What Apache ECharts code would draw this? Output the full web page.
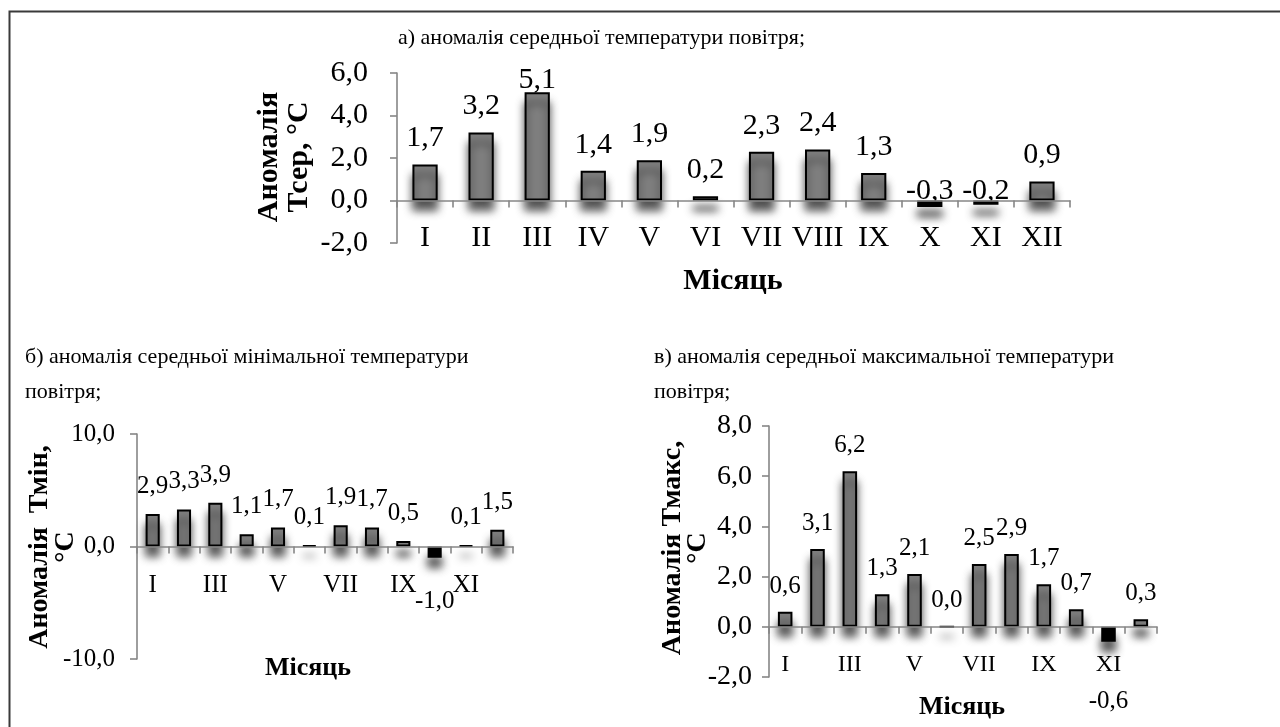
<!DOCTYPE html>
<html>
<head>
<meta charset="utf-8">
<script src="https://cdn.jsdelivr.net/npm/echarts@6/dist/echarts.min.js"></script>
<style>
  html, body { margin: 0; padding: 0; background: #fff; }
  #chart { width: 1280px; height: 727px; }
</style>
</head>
<body>
<div id="chart"></div>
<script>
// Monthly temperature anomalies (°C)
const months = ['I', 'II', 'III', 'IV', 'V', 'VI', 'VII', 'VIII', 'IX', 'X', 'XI', 'XII'];
const meanAnomaly = [1.7, 3.2, 5.1, 1.4, 1.9, 0.2, 2.3, 2.4, 1.3, -0.3, -0.2, 0.9];
const minAnomaly  = [2.9, 3.3, 3.9, 1.1, 1.7, 0.1, 1.9, 1.7, 0.5, -1.0, 0.1, 1.5];
const maxAnomaly  = [0.6, 3.1, 6.2, 1.3, 2.1, 0.0, 2.5, 2.9, 1.7, 0.7, -0.6, 0.3];

const titles = [
  'а) аномалія середньої температури повітря;',
  'б) аномалія середньої мінімальної температури\nповітря;',
  'в) аномалія середньої максимальної температури\nповітря;'
];
const yTitles = ['Аномалія\nТсер, °С', 'Аномалія  Тмін,\n°С', 'Аномалія Тмакс,\n°С'];
const xTitle = 'Місяць';

const FONT = '"Liberation Serif", "Times New Roman", serif';
const AXIS_GRAY = '#868686';
const fmt = v => Number(v).toFixed(1).replace('.', ',');

// per-panel layout and text sizes
const panels = [
  { values: meanAnomaly, grid: { left: 397, top: 73, width: 673, height: 170 },
    min: -2, max: 6, interval: 2, tickSize: 30, catSize: 30, labelSize: 30,
    yMargin: 29, xMargin: -20, catInterval: 0,
    posDist: 11, negPos: 'top', negDist: -6, capAbove: 5, capDist: -3 },
  { values: minAnomaly, grid: { left: 137, top: 434, width: 376, height: 225 },
    min: -10, max: 10, interval: 10, tickSize: 25, catSize: 25, labelSize: 25,
    yMargin: 22, xMargin: -86, catInterval: 1,
    posDist: 15, negPos: 'bottom', negDist: 31 },
  { values: maxAnomaly, grid: { left: 769, top: 426, width: 388, height: 251 },
    min: -2, max: 8, interval: 2, tickSize: 28, catSize: 24, labelSize: 25,
    yMargin: 17, xMargin: -24, catInterval: 1,
    posDist: 13, negPos: 'bottom', negDist: 47 }
];

const xAxes = panels.map((p, i) => ({
  gridIndex: i,
  type: 'category',
  data: months,
  z: 3,
  axisLine: { onZero: true, lineStyle: { color: AXIS_GRAY, width: 1.6 } },
  axisTick: { show: true, interval: 0, length: 7, lineStyle: { color: AXIS_GRAY, width: 1.6 } },
  axisLabel: { interval: p.catInterval, margin: p.xMargin, color: '#000',
               fontFamily: FONT, fontSize: p.catSize },
  splitLine: { show: false }
}));

const yAxes = panels.map((p, i) => ({
  gridIndex: i,
  type: 'value',
  min: p.min, max: p.max, interval: p.interval,
  axisLine: { show: true, lineStyle: { color: AXIS_GRAY, width: 1.6 } },
  axisTick: { show: true, length: 7, lineStyle: { color: AXIS_GRAY, width: 1.6 } },
  axisLabel: { margin: p.yMargin, color: '#000', fontFamily: FONT,
               fontSize: p.tickSize, formatter: fmt },
  splitLine: { show: false }
}));

const series = panels.map((p, i) => ({
  type: 'bar',
  xAxisIndex: i,
  yAxisIndex: i,
  barWidth: '45%',
  data: p.values.map(v => {
    const neg = v < 0;
    let dist = neg ? p.negDist : p.posDist;
    if (!neg && p.capAbove !== undefined && v > p.capAbove) dist = p.capDist;
    return {
      value: v,
      itemStyle: { color: neg ? '#000000' : '#7f7f7f' },
      label: { position: neg ? p.negPos : 'top', distance: dist }
    };
  }),
  itemStyle: {
    borderColor: '#000', borderWidth: 2,
    shadowColor: 'rgba(0,0,0,0.68)', shadowBlur: 8, shadowOffsetY: 10
  },
  label: {
    show: true, color: '#000', fontFamily: FONT, fontSize: p.labelSize,
    formatter: d => fmt(d.value)
  }
}));

function text(str, x, y, opts) {
  return Object.assign({
    type: 'text', x: x, y: y, silent: true,
    style: {
      text: str, fill: '#000', font: opts.font,
      textAlign: opts.align || 'center', align: opts.align || 'center',
      textVerticalAlign: 'middle', verticalAlign: 'middle',
      lineHeight: opts.lineHeight
    }
  }, opts.rotation ? { rotation: opts.rotation } : {});
}

const graphic = [
  // frame
  { type: 'polyline', silent: true,
    shape: { points: [[9.5, 727], [9.5, 11.5], [1280, 11.5]] },
    style: { stroke: '#3a3a3a', lineWidth: 2, fill: null } },
  // panel captions
  text(titles[0], 398, 38, { font: '22px ' + FONT, align: 'left' }),
  text(titles[1], 25, 375, { font: '22px ' + FONT, align: 'left', lineHeight: 35 }),
  text(titles[2], 654, 375, { font: '22px ' + FONT, align: 'left', lineHeight: 35 }),
  // value axis titles
  text(yTitles[0], 284, 157, { font: 'bold 30px ' + FONT, lineHeight: 30, rotation: Math.PI / 2 }),
  text(yTitles[1], 53, 547, { font: 'bold 28px ' + FONT, lineHeight: 26, rotation: Math.PI / 2 }),
  text(yTitles[2], 685, 548, { font: 'bold 28px ' + FONT, lineHeight: 25, rotation: Math.PI / 2 }),
  // category axis titles
  text(xTitle, 733, 281, { font: 'bold 30px ' + FONT }),
  text(xTitle, 308, 668, { font: 'bold 26px ' + FONT }),
  text(xTitle, 962, 707, { font: 'bold 26px ' + FONT })
];

const chart = echarts.init(document.getElementById('chart'), null, { renderer: 'canvas' });
chart.setOption({
  animation: false,
  backgroundColor: '#ffffff',
  grid: panels.map(p => Object.assign({ containLabel: false }, p.grid)),
  xAxis: xAxes,
  yAxis: yAxes,
  series: series,
  graphic: graphic
});
</script>
</body>
</html>
